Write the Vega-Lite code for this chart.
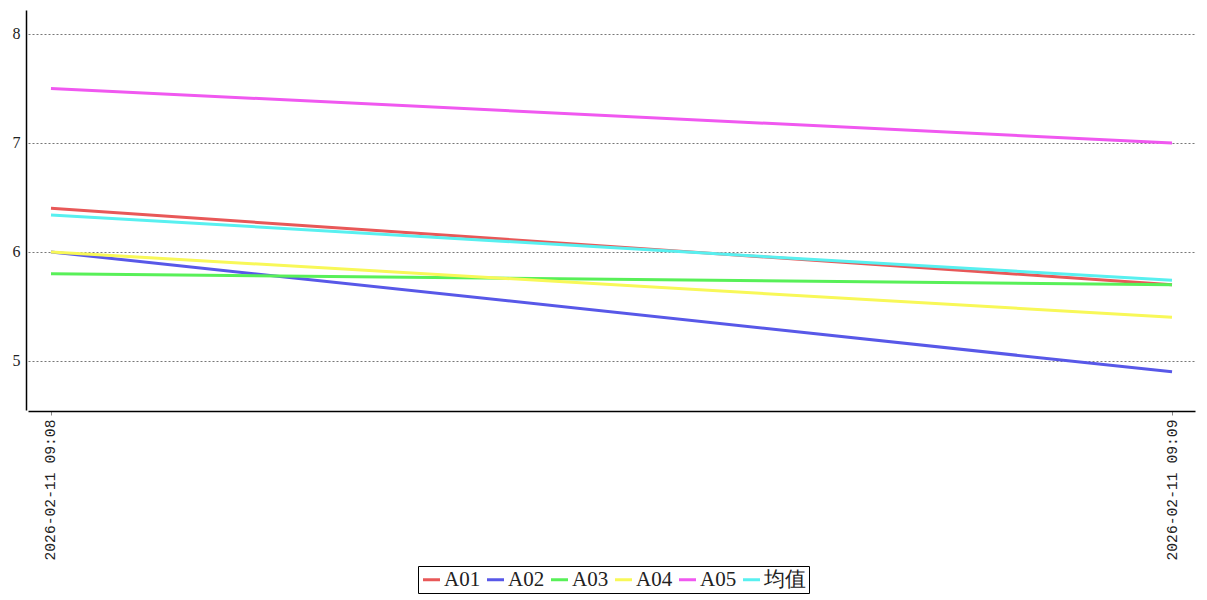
{
  "$schema": "https://vega.github.io/schema/vega-lite/v6.json",
  "autosize": {"type": "none"},
  "width": 1167,
  "height": 400,
  "padding": {"left": 28, "top": 10, "right": 12, "bottom": 190},
  "background": "white",
  "config": {
    "view": {"stroke": null},
    "font": "Liberation Serif"
  },
  "data": {
    "values": [
      {"time": "2026-02-11  09:08", "series": "A01", "value": 6.4},
      {"time": "2026-02-11  09:09", "series": "A01", "value": 5.7},
      {"time": "2026-02-11  09:08", "series": "A02", "value": 6.0},
      {"time": "2026-02-11  09:09", "series": "A02", "value": 4.9},
      {"time": "2026-02-11  09:08", "series": "A03", "value": 5.8},
      {"time": "2026-02-11  09:09", "series": "A03", "value": 5.7},
      {"time": "2026-02-11  09:08", "series": "A04", "value": 6.0},
      {"time": "2026-02-11  09:09", "series": "A04", "value": 5.4},
      {"time": "2026-02-11  09:08", "series": "A05", "value": 7.5},
      {"time": "2026-02-11  09:09", "series": "A05", "value": 7.0},
      {"time": "2026-02-11  09:08", "series": "均值", "value": 6.34},
      {"time": "2026-02-11  09:09", "series": "均值", "value": 5.74}
    ]
  },
  "mark": {"type": "line", "strokeWidth": 3, "interpolate": "linear"},
  "encoding": {
    "x": {
      "field": "time",
      "type": "ordinal",
      "scale": {"type": "point", "padding": 0.0205},
      "axis": {
        "title": null,
        "labelAngle": 270,
        "labelAlign": "right",
        "labelBaseline": "middle",
        "labelFont": "Liberation Mono",
        "labelFontSize": 14.7,
        "labelColor": "#222222",
        "labelPadding": 4,
        "domainColor": "black",
        "domainWidth": 1.5,
        "tickColor": "#888888",
        "tickSize": 4,
        "grid": false,
        "offset": 1
      }
    },
    "y": {
      "field": "value",
      "type": "quantitative",
      "scale": {"domain": [4.55, 8.22], "nice": false, "zero": false},
      "axis": {
        "title": null,
        "values": [5, 6, 7, 8],
        "labelFont": "Liberation Serif",
        "labelFontSize": 16,
        "labelColor": "#222222",
        "labelPadding": 6,
        "ticks": false,
        "domainColor": "black",
        "domainWidth": 1.5,
        "offset": 2,
        "grid": true,
        "gridColor": "#777777",
        "gridDash": [2, 2],
        "gridWidth": 1
      }
    },
    "color": {
      "field": "series",
      "type": "nominal",
      "scale": {
        "domain": ["A01", "A02", "A03", "A04", "A05", "均值"],
        "range": ["#e85858", "#5858e8", "#58f058", "#f8f858", "#f058f0", "#58f0f0"]
      },
      "legend": {
        "title": null,
        "orient": "none",
        "legendX": 390,
        "legendY": 556,
        "direction": "horizontal",
        "columns": 6,
        "symbolType": "stroke",
        "symbolStrokeWidth": 3,
        "symbolSize": 289,
        "labelFont": "Liberation Serif",
        "labelFontSize": 21,
        "labelColor": "#222222",
        "labelOffset": 2,
        "columnPadding": 0,
        "strokeColor": "black",
        "padding": 3,
        "cornerRadius": 0
      }
    }
  }
}
